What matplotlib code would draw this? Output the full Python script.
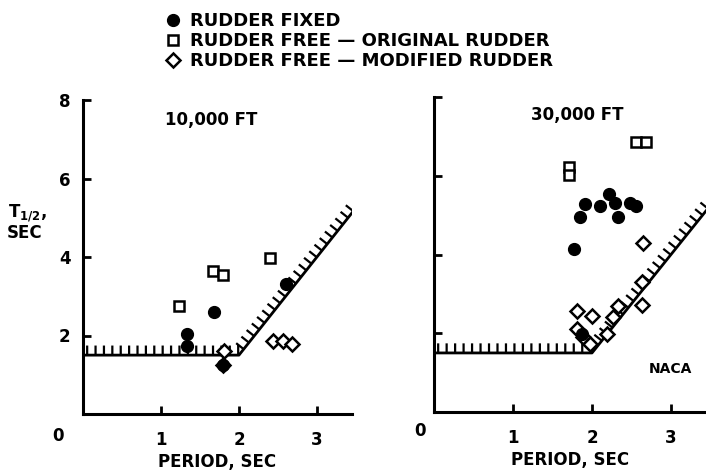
import matplotlib
matplotlib.use("Agg")
import matplotlib.pyplot as plt
import matplotlib.patheffects as pe
from matplotlib.lines import Line2D

# ---------------- data ----------------
boundary_x = [0.0, 2.0, 3.5]
boundary_y = [1.5, 1.5, 5.25]

left_fixed_x = [1.33, 1.33, 1.68, 2.60, 1.80]
left_fixed_y = [2.05, 1.72, 2.60, 3.30, 1.25]
left_orig_x = [1.23, 1.67, 1.80, 2.40]
left_orig_y = [2.76, 3.65, 3.55, 3.97]
left_mod_x = [1.81, 1.80, 2.44, 2.56, 2.68]
left_mod_y = [1.60, 1.25, 1.85, 1.87, 1.78]

right_fixed_x = [1.77, 1.85, 1.91, 2.10, 2.22, 2.29, 2.33, 2.48, 2.56, 1.87]
right_fixed_y = [4.15, 4.96, 5.27, 5.22, 5.54, 5.32, 4.96, 5.32, 5.22, 1.97]
right_orig_x = [1.71, 1.71, 2.56, 2.68]
right_orig_y = [6.23, 6.03, 6.86, 6.86]
right_mod_x = [1.81, 2.00, 1.81, 1.89, 1.97, 2.19, 2.27, 2.33, 2.63, 2.63, 2.65]
right_mod_y = [2.56, 2.43, 2.10, 1.90, 1.72, 1.97, 2.41, 2.68, 2.73, 3.29, 4.30]

x_ticks = [1, 2, 3]
y_ticks = [2, 4, 6, 8]
legend_labels = ["RUDDER FIXED",
                 "RUDDER FREE \u2014 ORIGINAL RUDDER",
                 "RUDDER FREE \u2014 MODIFIED RUDDER"]
titles = ["10,000 FT", "30,000 FT"]

# ---------------- figure ----------------
W, H = 706, 474
fig = plt.figure(figsize=(W / 100, H / 100), dpi=100)
plt.rcParams["font.family"] = ["DejaVu Sans"]
plt.rcParams["font.weight"] = "bold"

axL = fig.add_axes([83 / W, 60 / H, 269 / W, 314 / H])
axR = fig.add_axes([434 / W, 62 / H, (W - 434) / W, 315 / H])

def style(ax, xmax, labels_y):
    ax.set_xlim(0, xmax)
    ax.set_ylim(0, 8)
    for s in ["top", "right"]:
        ax.spines[s].set_visible(False)
    for s in ["left", "bottom"]:
        ax.spines[s].set_linewidth(2.2)
    ax.set_xticks(x_ticks)
    ax.set_yticks(y_ticks)
    ax.tick_params(axis="both", direction="in", length=6, width=2,
                   labelsize=12)
    ax.tick_params(axis="x", pad=12)
    ax.tick_params(axis="y", pad=9)
    if not labels_y:
        ax.set_yticklabels([])
    for lab in ax.get_xticklabels() + ax.get_yticklabels():
        lab.set_fontweight("bold")
    ax.set_xlabel("PERIOD, SEC", fontsize=12, fontweight="bold", labelpad=3)
    ax.patch.set_alpha(0)

style(axL, 3.45, True)
style(axR, (W - 434) / 79, False)

mk_fixed = dict(marker="o", ms=8.5, color="black", ls="none")
mk_orig = dict(marker="s", ms=7, mfc="white", mec="black", mew=1.8, ls="none")
mk_mod = dict(marker="D", ms=7.5, mfc="white", mec="black", mew=1.8, ls="none")

for ax, fx, fy, ox, oy, mx, my in [
        (axL, left_fixed_x, left_fixed_y, left_orig_x, left_orig_y, left_mod_x, left_mod_y),
        (axR, right_fixed_x, right_fixed_y, right_orig_x, right_orig_y, right_mod_x, right_mod_y)]:
    ax.plot(boundary_x, boundary_y, color="black", lw=2.0, solid_capstyle="butt",
            path_effects=[pe.withTickedStroke(angle=90, spacing=6, length=1.15, linewidth=1.6)],
            zorder=2)
    ax.plot(mx, my, zorder=3, **mk_mod)
    ax.plot(ox, oy, zorder=3, **mk_orig)
    ax.plot(fx, fy, zorder=4, **mk_fixed)

axL.text(1.65, 7.5, titles[0], ha="center", va="center", fontsize=12, fontweight="bold")
axR.text(1.81, 7.55, titles[1], ha="center", va="center", fontsize=12, fontweight="bold")
axR.text(2.99, 1.08, "NACA", ha="center", va="center", fontsize=10, fontweight="bold")

# origin labels
fig.text(58 / W, 1 - 436 / H, "0", ha="center", va="center", fontsize=12, fontweight="bold")
fig.text(420 / W, 1 - 431 / H, "0", ha="center", va="center", fontsize=12, fontweight="bold")

# y label
fig.text(8 / W, 1 - 213 / H, r"$\mathbf{T}_{\mathbf{1/2}}$,", ha="left", va="center",
         fontsize=12)
fig.text(7 / W, 1 - 233 / H, "SEC", ha="left", va="center", fontsize=12, fontweight="bold")

# legend
handles = [Line2D([], [], **mk_fixed), Line2D([], [], **mk_orig), Line2D([], [], **mk_mod)]
leg = fig.legend(handles, legend_labels, loc="upper left",
                 bbox_to_anchor=(156 / W, 1 - 1 / H), frameon=False,
                 handlelength=0.7, handletextpad=0.6, labelspacing=0.12,
                 borderpad=0.1, prop=dict(size=13, weight="bold"))

fig.savefig("out.png", dpi=100)
